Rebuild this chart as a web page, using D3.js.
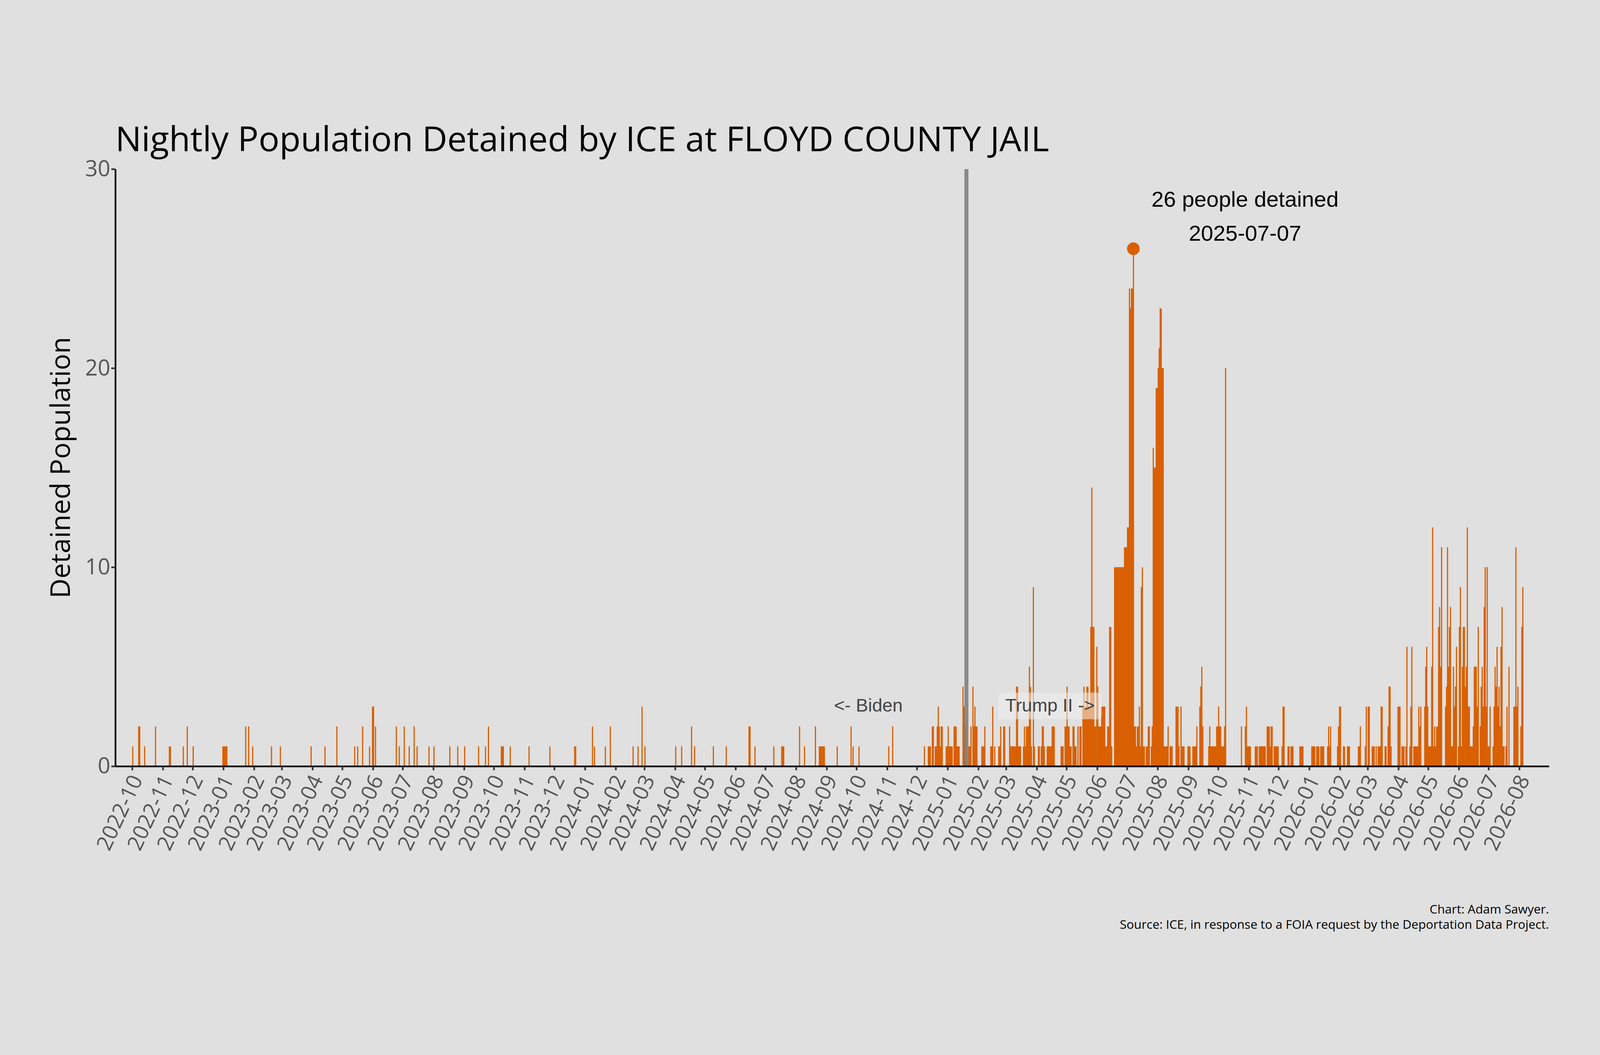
<!DOCTYPE html>
<html><head><meta charset="utf-8">
<script src="https://cdn.jsdelivr.net/npm/d3@7"></script>
<style>html,body{margin:0;padding:0;background:#e0e0e0;overflow:hidden;width:100%;height:100%}svg{display:block}</style>
</head><body>
<script>
// Runs of nightly population: [start date, number of days, value]; days not listed = 0
const runs = [
["2022-10-01",1,1],["2022-10-07",2,2],["2022-10-13",1,1],["2022-10-24",1,2],["2022-11-07",2,1],["2022-11-21",1,1],["2022-11-25",1,2],["2022-12-01",1,1],
["2022-12-31",5,1],["2023-01-23",1,2],["2023-01-26",1,2],["2023-01-30",1,1],["2023-02-18",1,1],["2023-02-27",1,1],["2023-03-30",1,1],["2023-04-13",1,1],["2023-04-25",1,2],
["2023-05-13",1,1],["2023-05-16",1,1],["2023-05-21",1,2],["2023-05-28",1,1],["2023-05-31",2,3],["2023-06-03",1,2],["2023-06-24",1,2],["2023-06-27",1,1],["2023-07-02",1,2],
["2023-07-07",1,1],["2023-07-12",1,2],["2023-07-15",1,1],["2023-07-27",1,1],["2023-08-01",1,1],["2023-08-17",1,1],["2023-08-25",1,1],["2023-09-01",1,1],["2023-09-15",1,1],
["2023-09-22",1,1],["2023-09-25",1,2],["2023-10-08",3,1],["2023-10-17",1,1],["2023-11-05",1,1],["2023-11-26",1,1],["2023-12-21",2,1],["2024-01-08",1,2],["2024-01-10",1,1],
["2024-01-21",1,1],["2024-01-26",1,2],["2024-02-18",1,1],["2024-02-23",1,1],["2024-02-27",1,3],["2024-03-01",1,1],["2024-04-01",1,1],["2024-04-07",1,1],["2024-04-17",1,2],
["2024-04-20",1,1],["2024-05-09",1,1],["2024-05-22",1,1],["2024-06-14",2,2],["2024-06-20",1,1],["2024-07-09",1,1],["2024-07-17",3,1],["2024-08-04",1,2],["2024-08-09",1,1],
["2024-08-20",1,2],["2024-08-24",6,1],["2024-09-11",1,1],["2024-09-25",1,2],["2024-09-27",1,1],["2024-10-03",1,1],["2024-11-02",1,1],["2024-11-06",1,2],["2024-12-08",1,1],
["2024-12-12",3,1],["2024-12-16",2,2],["2024-12-19",2,1],["2024-12-21",3,2],["2024-12-22",1,3],["2024-12-24",1,1],["2024-12-25",2,2],["2024-12-30",2,1],["2025-01-01",1,2],
["2025-01-02",4,1],["2025-01-07",3,2],["2025-01-10",3,1],["2025-01-16",1,4],["2025-01-17",1,3],["2025-01-18",2,2],["2025-01-22",2,1],["2025-01-24",1,2],["2025-01-26",1,4],
["2025-01-27",1,2],["2025-01-28",1,3],["2025-01-29",2,2],["2025-02-04",3,1],["2025-02-07",1,2],["2025-02-13",3,1],["2025-02-15",1,3],["2025-02-17",1,1],["2025-02-21",2,1],
["2025-02-23",1,2],["2025-02-26",2,2],["2025-03-04",1,2],["2025-03-05",3,1],["2025-03-08",8,1],["2025-03-11",2,4],["2025-03-18",3,1],["2025-03-19",1,2],["2025-03-21",3,2],
["2025-03-24",1,5],["2025-03-25",1,4],["2025-03-26",1,1],["2025-03-28",1,9],["2025-03-29",1,1],["2025-04-02",2,1],["2025-04-05",1,1],["2025-04-06",2,2],["2025-04-08",1,1],
["2025-04-11",5,1],["2025-04-16",3,2],["2025-04-25",3,1],["2025-04-29",2,2],["2025-05-01",1,4],["2025-05-02",2,2],["2025-05-04",2,1],["2025-05-07",2,2],["2025-05-09",2,1],
["2025-05-12",1,2],["2025-05-14",2,2],["2025-05-17",1,3],["2025-05-18",1,4],["2025-05-19",2,3],["2025-05-21",2,4],["2025-05-23",2,3],["2025-05-25",1,7],["2025-05-26",1,14],
["2025-05-27",2,7],["2025-05-29",2,2],["2025-05-31",1,6],["2025-06-01",1,4],["2025-06-02",3,2],["2025-06-05",4,3],["2025-06-09",2,1],["2025-06-11",2,2],["2025-06-13",2,7],
["2025-06-15",1,1],["2025-06-18",10,10],["2025-06-28",3,11],["2025-07-01",2,12],["2025-07-03",1,24],["2025-07-04",1,23],["2025-07-05",2,24],["2025-07-07",1,26],
["2025-07-08",2,2],["2025-07-10",1,1],["2025-07-11",2,2],["2025-07-13",1,3],["2025-07-14",1,1],["2025-07-15",1,9],["2025-07-16",1,10],["2025-07-17",2,1],["2025-07-20",2,1],
["2025-07-22",2,2],["2025-07-25",1,1],["2025-07-26",1,2],["2025-07-27",1,16],["2025-07-28",2,15],["2025-07-30",2,19],["2025-08-01",1,20],["2025-08-02",1,21],["2025-08-03",2,23],
["2025-08-05",2,20],["2025-08-07",4,1],["2025-08-11",1,2],["2025-08-13",3,1],["2025-08-19",3,3],["2025-08-22",1,1],["2025-08-24",1,3],["2025-08-25",3,1],["2025-08-31",3,1],
["2025-09-05",4,1],["2025-09-09",1,2],["2025-09-12",1,3],["2025-09-13",1,4],["2025-09-14",1,5],["2025-09-15",1,2],["2025-09-21",8,1],["2025-09-22",1,2],["2025-09-29",2,2],
["2025-10-01",1,3],["2025-10-02",2,2],["2025-10-04",3,1],["2025-10-07",1,2],["2025-10-08",1,20],["2025-10-24",1,2],["2025-10-28",1,2],["2025-10-29",1,3],["2025-10-30",4,1],
["2025-11-07",3,1],["2025-11-11",7,1],["2025-11-19",3,2],["2025-11-22",1,1],["2025-11-23",2,2],["2025-11-26",5,1],["2025-12-04",1,1],["2025-12-05",2,3],["2025-12-10",2,1],
["2025-12-13",3,1],["2025-12-22",4,1],["2026-01-03",4,1],["2026-01-08",3,1],["2026-01-12",4,1],["2026-01-19",1,1],["2026-01-20",1,2],["2026-01-21",1,1],["2026-01-22",1,2],
["2026-01-29",1,1],["2026-01-30",1,2],["2026-01-31",2,3],["2026-02-04",2,1],["2026-02-08",3,1],["2026-02-19",2,1],["2026-02-21",1,2],["2026-02-26",1,1],["2026-02-27",1,3],
["2026-03-01",2,3],["2026-03-05",3,1],["2026-03-09",1,1],["2026-03-11",3,1],["2026-03-14",2,3],["2026-03-18",2,1],["2026-03-21",1,2],["2026-03-22",2,4],["2026-03-24",1,1],
["2026-03-31",3,3],["2026-04-04",3,1],["2026-04-08",1,1],["2026-04-09",1,6],["2026-04-12",1,1],["2026-04-13",1,3],["2026-04-14",1,6],["2026-04-16",5,1],["2026-04-21",1,3],
["2026-04-22",1,2],["2026-04-23",1,3],["2026-04-27",1,3],["2026-04-28",1,5],["2026-04-29",1,6],["2026-04-30",1,3],["2026-05-01",3,1],["2026-05-04",1,5],["2026-05-05",1,12],
["2026-05-06",1,1],["2026-05-07",1,2],["2026-05-08",1,1],["2026-05-09",2,2],["2026-05-11",1,7],["2026-05-12",1,8],["2026-05-13",1,5],["2026-05-14",1,11],["2026-05-18",1,3],
["2026-05-19",1,4],["2026-05-20",1,11],["2026-05-21",1,5],["2026-05-22",1,7],["2026-05-23",1,8],["2026-05-24",3,1],["2026-05-26",1,5],["2026-05-27",1,3],["2026-05-28",1,4],
["2026-05-29",1,6],["2026-05-31",1,1],["2026-06-01",1,7],["2026-06-02",1,9],["2026-06-03",1,1],["2026-06-04",1,5],["2026-06-05",2,7],["2026-06-07",1,4],["2026-06-08",1,5],
["2026-06-09",1,12],["2026-06-10",1,3],["2026-06-11",1,3],["2026-06-12",3,1],["2026-06-15",1,2],["2026-06-16",3,5],["2026-06-19",1,3],["2026-06-20",1,7],["2026-06-22",1,2],
["2026-06-23",1,4],["2026-06-24",1,5],["2026-06-25",1,3],["2026-06-26",1,8],["2026-06-27",1,10],["2026-06-28",1,3],["2026-06-29",1,10],["2026-06-30",3,1],["2026-07-02",1,3],
["2026-07-05",1,1],["2026-07-06",1,3],["2026-07-07",1,5],["2026-07-08",1,4],["2026-07-09",1,6],["2026-07-10",1,3],["2026-07-11",1,4],["2026-07-12",1,2],["2026-07-13",1,6],
["2026-07-14",1,8],["2026-07-15",2,1],["2026-07-18",1,1],["2026-07-19",1,3],["2026-07-21",1,5],["2026-07-26",2,3],["2026-07-28",1,11],["2026-07-29",1,3],["2026-07-30",1,4],
["2026-08-02",1,2],["2026-08-03",1,7],["2026-08-04",1,9]
];
const yTicks = [0,10,20,30];
const peak = {date:"2025-07-07", value:26};
const inauguration = "2025-01-20";
const titleText = "Nightly Population Detained by ICE at FLOYD COUNTY JAIL";
const captionLines = ["Chart: Adam Sawyer.","Source: ICE, in response to a FOIA request by the Deportation Data Project."];

const parse = d3.utcParse("%Y-%m-%d");
const daily = new Map();
runs.forEach(([s,n,v])=>{const t=parse(s);for(let i=0;i<n;i++){daily.set(+d3.utcDay.offset(t,i),v);}});
const data = Array.from(daily,([t,v])=>({t:new Date(t),v}));

const W=4800,H=2700,L=346,R=4647,T=275,B=2066;
const svg=d3.select("body").append("svg").attr("viewBox",`0 0 ${W} ${H}`)
 .attr("preserveAspectRatio","xMidYMid meet").style("width","100vw").style("height","100vh").style("background","#e0e0e0");
const x=d3.scaleUtc().domain([parse("2022-09-14"),parse("2026-08-31")]).range([L,R]);
const y=d3.scaleLinear().domain([0,30]).range([B,T]);
const dayW = x(parse("2025-01-02"))-x(parse("2025-01-01"));
const orange="#d95f02";

svg.append("g").selectAll("rect").data(data).join("rect")
 .attr("x",d=>x(d.t)).attr("width",dayW+0.6).attr("y",d=>y(d.v)).attr("height",d=>B-y(d.v)).attr("fill",orange);

svg.append("line").attr("x1",x(parse(inauguration))).attr("x2",x(parse(inauguration))).attr("y1",T).attr("y2",B)
 .attr("stroke","#808080").attr("stroke-width",12).attr("opacity",0.9);

svg.append("circle").attr("cx",x(parse(peak.date))+dayW/2).attr("cy",y(peak.value)).attr("r",19).attr("fill",orange);

const xa=svg.append("g").attr("transform",`translate(0,${B})`)
 .call(d3.axisBottom(x).ticks(d3.utcMonth.every(1)).tickFormat(d3.utcFormat("%Y-%m")).tickSize(12).tickSizeOuter(0));
xa.select(".domain").attr("stroke","#000").attr("stroke-width",5);
xa.selectAll(".tick line").attr("stroke","#333").attr("stroke-width",5);
xa.selectAll("text").attr("font-family","Open Sans").attr("font-size",64).attr("fill","#555")
 .attr("text-anchor","end").attr("transform","translate(12,30) rotate(-65)").attr("dy","0.35em").attr("dx",0).attr("y",0);

const ya=svg.append("g").attr("transform",`translate(${L},0)`)
 .call(d3.axisLeft(y).tickValues(yTicks).tickSize(12).tickSizeOuter(0));
ya.select(".domain").attr("stroke","#000").attr("stroke-width",5);
ya.selectAll(".tick line").attr("stroke","#333").attr("stroke-width",5);
ya.selectAll("text").attr("font-family","Open Sans").attr("font-size",66).attr("fill","#555");

svg.append("text").attr("x",346).attr("y",222).attr("font-family","Open Sans").attr("font-size",104).attr("fill","#000").text(titleText);
svg.append("text").attr("transform",`translate(210,${(T+B)/2}) rotate(-90)`).attr("text-anchor","middle")
 .attr("font-family","Open Sans").attr("font-size",82).attr("fill","#000").text("Detained Population");

svg.append("text").attr("x",3735).attr("y",388).attr("text-anchor","middle").attr("font-family","Liberation Sans").attr("font-size",66).text(peak.value+" people detained");
svg.append("text").attr("x",3735).attr("y",490).attr("text-anchor","middle").attr("font-family","Liberation Sans").attr("font-size",66).text(peak.date);

svg.append("text").attr("x",2605).attr("y",1902).attr("text-anchor","middle").attr("font-family","Liberation Sans").attr("font-size",55).attr("fill","#444").text("<- Biden");
svg.append("rect").attr("x",2995).attr("y",1845).attr("width",310).attr("height",80).attr("rx",10).attr("fill","#eeeeee").attr("opacity",0.55);
svg.append("text").attr("x",3150).attr("y",1902).attr("text-anchor","middle").attr("font-family","Liberation Sans").attr("font-size",55).attr("fill","#444").text("Trump II ->");

captionLines.forEach((s,i)=>svg.append("text").attr("x",R).attr("y",2508+i*45).attr("text-anchor","end")
 .attr("font-family","Open Sans").attr("font-size",37).attr("fill","#000").text(s));
</script>
</body></html>
